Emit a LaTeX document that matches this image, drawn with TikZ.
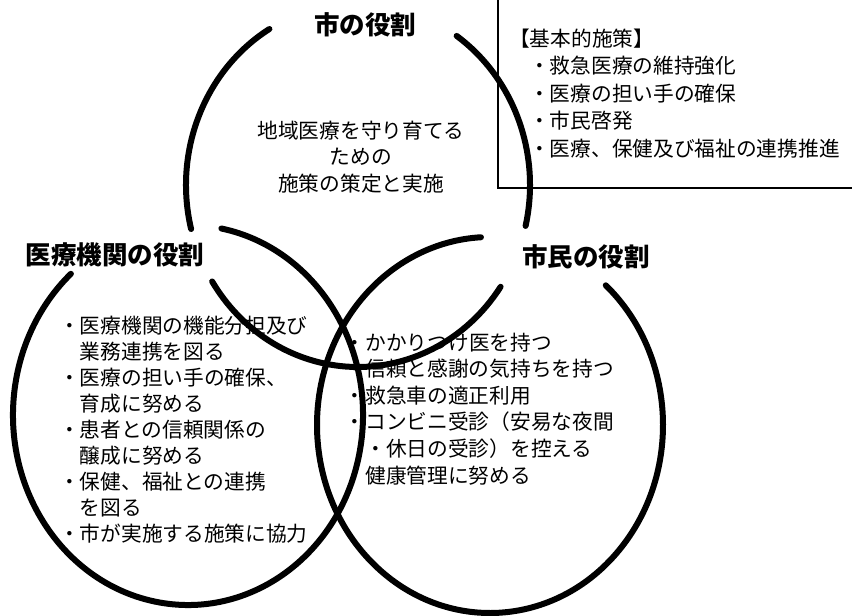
\documentclass[tikz,border=0pt]{standalone}
\usepackage{fontspec}
\setmainfont{Noto Sans CJK JP}
\begin{document}
\begin{tikzpicture}[x=1pt,y=-1pt,
  txt/.style={inner sep=0pt, font=\fontsize{20.7}{25}\selectfont, text height=0.8em, text depth=0.2em},
  ttl/.style={inner sep=0pt, font=\fontsize{25.5}{30}\selectfont\bfseries},
  ring/.style={line width=6pt, line cap=round},
  frame/.style={line width=2.2pt}]
\useasboundingbox (0,0) rectangle (852,616);
% centres
\coordinate (cT) at (358,185);
\coordinate (cL) at (188,415);
\coordinate (cR) at (490,425);
% top circle (gaps for titles)
\draw[ring] ([shift={(-55:172 and 182)}]cT) arc[start angle=-55, end angle=13, x radius=172, y radius=182];
\draw[ring] ([shift={(34:172 and 182)}]cT) arc[start angle=34, end angle=148, x radius=172, y radius=182];
\draw[ring] ([shift={(166:172 and 182)}]cT) arc[start angle=166, end angle=239, x radius=172, y radius=182];
% left circle
\draw[ring] ([shift={(-79:175 and 190)}]cL) arc[start angle=-79, end angle=228, x radius=175, y radius=190];
% right circle
\draw[ring] ([shift={(-48:173 and 188)}]cR) arc[start angle=-48, end angle=267, x radius=173, y radius=188];
% box
\coordinate (b1) at (498,-5);
\coordinate (b2) at (498,188);
\coordinate (b3) at (860,188);
\draw[frame] (b1) -- (b2) -- (b3);
% titles
\node[ttl] (tT) at (365,25) {市の役割};
\node[ttl] (tL) at (115,255) {医療機関の役割};
\node[ttl] (tR) at (586,257) {市民の役割};
% box text
\node[txt, anchor=west] (bh) at (509,43) {【基本的施策】};
\foreach \t [count=\i] in {・救急医療の維持強化,・医療の担い手の確保,・市民啓発,・医療、保健及び福祉の連携推進}
  \node[txt, anchor=west] (bx\i) at (529,{43+27.5*\i}) {\t};
% top circle text
\foreach \t [count=\i] in {地域医療を守り育てる,ための,施策の策定と実施}
  \node[txt] (c\i) at (361,{135+26.5*(\i-1)}) {\t};
% left circle text
\foreach \t [count=\i] in {・医療機関の機能分担及び,\hspace*{1em}業務連携を図る,・医療の担い手の確保、,\hspace*{1em}育成に努める,・患者との信頼関係の,\hspace*{1em}醸成に努める,・保健、福祉との連携,\hspace*{1em}を図る,・市が実施する施策に協力}
  \node[txt, anchor=west] (l\i) at (59,{330+26*(\i-1)}) {\t};
% right circle text
\foreach \t [count=\i] in {・かかりつけ医を持つ,・信頼と感謝の気持ちを持つ,・救急車の適正利用,・コンビニ受診（安易な夜間,\hspace*{1em}・休日の受診）を控える,・健康管理に努める}
  \node[txt, anchor=west] (r\i) at (344.5,{347+26.6*(\i-1)}) {\t};
\end{tikzpicture}
\end{document}
